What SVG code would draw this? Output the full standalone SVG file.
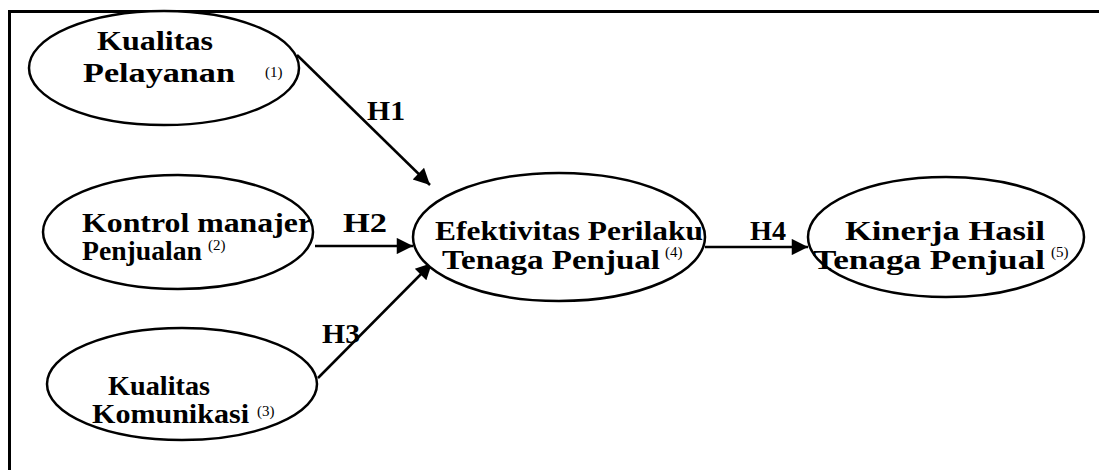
<svg xmlns="http://www.w3.org/2000/svg" width="1099" height="470" viewBox="0 0 1099 470">
<defs>
<style>
.node ellipse{fill:#fff;stroke:#000;stroke-width:2.5}
.t{font-family:"Liberation Serif","Times New Roman",serif;font-weight:bold;font-size:28px;fill:#000}
.s{font-family:"Liberation Serif","Times New Roman",serif;font-size:15px;fill:#000}
.edge{stroke:#000;stroke-width:2.5;fill:none}
.frame{stroke:#000;stroke-width:3;fill:none}
</style>
<marker id="ah" viewBox="0 0 10 10" refX="10" refY="5" markerWidth="8.5" markerHeight="6.5" markerUnits="strokeWidth" orient="auto">
<path d="M0,0 L10,5 L0,10 z" fill="#000"/>
</marker>
</defs>
<rect width="1099" height="470" fill="#fff"/>
<path class="frame" d="M9.5,470 V11.5 H1099"/>
<g id="connectors">
<line class="edge" x1="297" y1="55" x2="430" y2="185" marker-end="url(#ah)"/>
<line class="edge" x1="315" y1="246" x2="413" y2="246" marker-end="url(#ah)"/>
<line class="edge" x1="318" y1="378" x2="432" y2="263" marker-end="url(#ah)"/>
<line class="edge" x1="705" y1="247" x2="808" y2="247" marker-end="url(#ah)"/>
<text class="t" x="367" y="120" textLength="38" lengthAdjust="spacingAndGlyphs">H1</text>
<text class="t" x="343" y="232" textLength="44" lengthAdjust="spacingAndGlyphs">H2</text>
<text class="t" x="322" y="343" textLength="38" lengthAdjust="spacingAndGlyphs">H3</text>
<text class="t" x="750" y="240" textLength="36" lengthAdjust="spacingAndGlyphs">H4</text>
</g>
<g id="n1" class="node">
<ellipse cx="164" cy="68" rx="135" ry="57"/>
<text class="t" x="97" y="50" textLength="116" lengthAdjust="spacingAndGlyphs">Kualitas</text>
<text class="t" x="83" y="82" textLength="152" lengthAdjust="spacingAndGlyphs">Pelayanan</text>
<text class="s" x="265" y="77">(1)</text>
</g>
<g id="n2" class="node">
<ellipse cx="178" cy="232" rx="135" ry="57"/>
<text class="t" x="82" y="232" textLength="230" lengthAdjust="spacingAndGlyphs">Kontrol manajer</text>
<text class="t" x="82" y="260" textLength="120" lengthAdjust="spacingAndGlyphs">Penjualan</text>
<text class="s" x="208" y="250">(2)</text>
</g>
<g id="n3" class="node">
<ellipse cx="182" cy="384" rx="135" ry="56"/>
<text class="t" x="108" y="395" textLength="102" lengthAdjust="spacingAndGlyphs">Kualitas</text>
<text class="t" x="92" y="423" textLength="157" lengthAdjust="spacingAndGlyphs">Komunikasi</text>
<text class="s" x="257" y="416">(3)</text>
</g>
<g id="n4" class="node">
<ellipse cx="559" cy="237" rx="146" ry="64"/>
<text class="t" x="435" y="240" textLength="268" lengthAdjust="spacingAndGlyphs">Efektivitas Perilaku</text>
<text class="t" x="442" y="269" textLength="218" lengthAdjust="spacingAndGlyphs">Tenaga Penjual</text>
<text class="s" x="665" y="257">(4)</text>
</g>
<g id="n5" class="node">
<ellipse cx="946" cy="237" rx="138" ry="60"/>
<text class="t" x="845" y="240" textLength="200" lengthAdjust="spacingAndGlyphs">Kinerja Hasil</text>
<text class="t" x="813" y="269" textLength="232" lengthAdjust="spacingAndGlyphs">Tenaga Penjual</text>
<text class="s" x="1051" y="257">(5)</text>
</g>
</svg>
